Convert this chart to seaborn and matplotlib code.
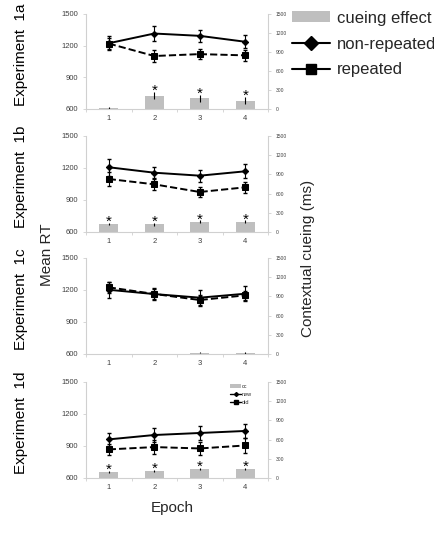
import numpy as np
import pandas as pd
import matplotlib
matplotlib.use("Agg")
import matplotlib.pyplot as plt
import seaborn as sns
from matplotlib.lines import Line2D
from matplotlib.patches import Patch

sns.set_style("white")
plt.rcParams["font.family"] = ["Liberation Sans", "DejaVu Sans"]

# ---------------- data ----------------
epochs = [1, 2, 3, 4]
panel_labels = ["Experiment  1a", "Experiment  1b", "Experiment  1c", "Experiment  1d"]

new_1a = [1223, 1315, 1293, 1237]
new_err_1a = [65, 70, 60, 60]
old_1a = [1220, 1102, 1120, 1108]
old_err_1a = [55, 55, 50, 50]
cc_1a = [8, 210, 168, 132]
cc_err_1a = [25, 60, 55, 55]
sig_1a = [False, True, True, True]

new_1b = [1207, 1156, 1128, 1169]
new_err_1b = [80, 55, 55, 65]
old_1b = [1097, 1047, 975, 1019]
old_err_1b = [70, 55, 45, 50]
cc_1b = [125, 120, 160, 160]
cc_err_1b = [20, 20, 20, 20]
sig_1b = [True, True, True, True]

new_1c = [1202, 1162, 1128, 1165]
new_err_1c = [75, 60, 75, 70]
old_1c = [1225, 1163, 1106, 1150]
old_err_1c = [50, 45, 45, 45]
cc_1c = [0, 2, 18, 15]
cc_err_1c = [0, 0, 10, 10]
sig_1c = [False, False, False, False]

new_1d = [962, 1003, 1022, 1041]
new_err_1d = [60, 65, 65, 68]
old_1d = [868, 890, 877, 905]
old_err_1d = [55, 65, 62, 72]
cc_1d = [99, 115, 146, 135]
cc_err_1d = [15, 15, 15, 15]
sig_1d = [True, True, True, True]

rt_ticks = [600, 900, 1200, 1500]
cc_ticks = [0, 300, 600, 900, 1200, 1500]

panels = [
    (new_1a, new_err_1a, old_1a, old_err_1a, cc_1a, cc_err_1a, sig_1a),
    (new_1b, new_err_1b, old_1b, old_err_1b, cc_1b, cc_err_1b, sig_1b),
    (new_1c, new_err_1c, old_1c, old_err_1c, cc_1c, cc_err_1c, sig_1c),
    (new_1d, new_err_1d, old_1d, old_err_1d, cc_1d, cc_err_1d, sig_1d),
]

# ---------------- layout ----------------
W, H = 435, 534
fig = plt.figure(figsize=(W / 100, H / 100), dpi=100)

bar_color = "#bfbfbf"
spine_color = "#d0d0d0"
tick_color = "#404040"

ax_left = 86 / W
ax_w = 182 / W
tops = [14, 136, 258, 382]
bots = [109, 232, 354, 478]

for i, (new, new_err, old, old_err, cc, cc_err, sig) in enumerate(panels):
    y0 = 1 - bots[i] / H
    h = (bots[i] - tops[i]) / H
    ax = fig.add_axes([ax_left, y0, ax_w, h])
    ax2 = ax.twinx()

    df = pd.DataFrame({"epoch": epochs, "new": new, "old": old, "cc": cc})

    # bars (right axis)
    sns.barplot(data=df, x="epoch", y="cc", native_scale=True, width=0.42,
                color=bar_color, errorbar=None, ax=ax2, saturation=1,
                edgecolor="none")
    ax2.errorbar(epochs, cc, yerr=cc_err, fmt="none", ecolor="black",
                 elinewidth=0.8, capsize=0)
    for x, v, e, s in zip(epochs, cc, cc_err, sig):
        if s:
            ax2.text(x, v + e - 45, "*", ha="center", va="baseline",
                     fontsize=11, color="black")

    # lines (left axis)
    sns.lineplot(data=df, x="epoch", y="new", ax=ax, color="black",
                 linewidth=1.4, marker="D", markersize=3.2,
                 markeredgecolor="black")
    sns.lineplot(data=df, x="epoch", y="old", ax=ax, color="black",
                 linewidth=1.4, linestyle="--", marker="s", markersize=4.2,
                 markeredgecolor="black")
    ax.errorbar(epochs, new, yerr=new_err, fmt="none", ecolor="black",
                elinewidth=0.8, capsize=1.2)
    ax.errorbar(epochs, old, yerr=old_err, fmt="none", ecolor="black",
                elinewidth=0.8, capsize=1.2)

    ax.set_zorder(ax2.get_zorder() + 1)
    ax.patch.set_visible(False)

    ax.set_xlim(0.5, 4.5)
    ax2.set_xlim(0.5, 4.5)
    ax.set_ylim(600, 1500)
    ax2.set_ylim(0, 1500)
    ax.set_yticks(rt_ticks)
    ax.set_yticklabels([str(t) for t in rt_ticks])
    ax2.set_yticks(cc_ticks)
    ax2.set_yticklabels([str(t) for t in cc_ticks])
    ax.set_xticks(epochs)
    ax.set_xticklabels([str(e) for e in epochs])
    ax.set_xticks([0.5, 1.5, 2.5, 3.5, 4.5], minor=True)
    ax.set_xlabel("")
    ax.set_ylabel("")
    ax2.set_xlabel("")
    ax2.set_ylabel("")

    ax.tick_params(axis="x", which="major", length=0, pad=4, labelsize=5.5,
                   labelcolor=tick_color)
    ax.tick_params(axis="x", which="minor", length=2.5, width=0.6,
                   color=spine_color, bottom=True)
    ax.tick_params(axis="y", length=2.5, width=0.6, color=spine_color,
                   pad=3, labelsize=5.5, labelcolor=tick_color, left=True)
    ax2.tick_params(axis="y", length=2.5, width=0.6, color=spine_color,
                    pad=3, labelsize=3.6, labelcolor=tick_color, right=True)
    ax2.tick_params(axis="x", length=0)

    for a in (ax, ax2):
        a.spines["top"].set_visible(False)
        for s in ("left", "right", "bottom"):
            a.spines[s].set_color(spine_color)
            a.spines[s].set_linewidth(0.8)
    ax.spines["right"].set_visible(False)
    ax2.spines["left"].set_visible(False)
    ax2.spines["bottom"].set_visible(False)

    # panel label
    yc = 1 - ((tops[i] + bots[i]) / 2 - 7) / H
    fig.text(21 / W, yc, panel_labels[i], rotation=90, ha="center",
             va="center", fontsize=11, color="black")

    if i == 3:
        h_small = [
            Patch(facecolor=bar_color, edgecolor="none"),
            Line2D([], [], color="black", lw=1.0, marker="D", markersize=2),
            Line2D([], [], color="black", lw=1.0, marker="s", markersize=2.5),
        ]
        ax.legend(h_small, ["cc", "new", "old"], loc="upper left",
                  bbox_to_anchor=(0.77, 1.02), frameon=False, fontsize=4,
                  handlelength=2.0, handleheight=0.8, labelspacing=0.5,
                  handletextpad=0.1, borderpad=0.2)

# big legend next to panel 1a (last label runs off the right edge, as in the original)
handles = [
    Patch(facecolor=bar_color, edgecolor="none"),
    Line2D([], [], color="black", lw=1.5, marker="D", markersize=7.5),
    Line2D([], [], color="black", lw=1.5, marker="s", markersize=7),
]
fig.legend(handles, ["cueing effect", "non-repeated", "repeated"],
           loc="upper left", bbox_to_anchor=(280 / W, 1 + 1 / H),
           frameon=False, fontsize=12, handlelength=2.3, handleheight=0.65,
           labelspacing=0.65, handletextpad=0.4, borderpad=0.2)

fig.text(47 / W, 1 - 255 / H, "Mean RT", rotation=90, ha="center",
         va="center", fontsize=11)
fig.text(308 / W, 1 - 258 / H, "Contextual cueing (ms)", rotation=90,
         ha="center", va="center", fontsize=11)
fig.text(172 / W, 1 - 508 / H, "Epoch", ha="center", va="center",
         fontsize=11)

fig.savefig("out.png", dpi=100)
